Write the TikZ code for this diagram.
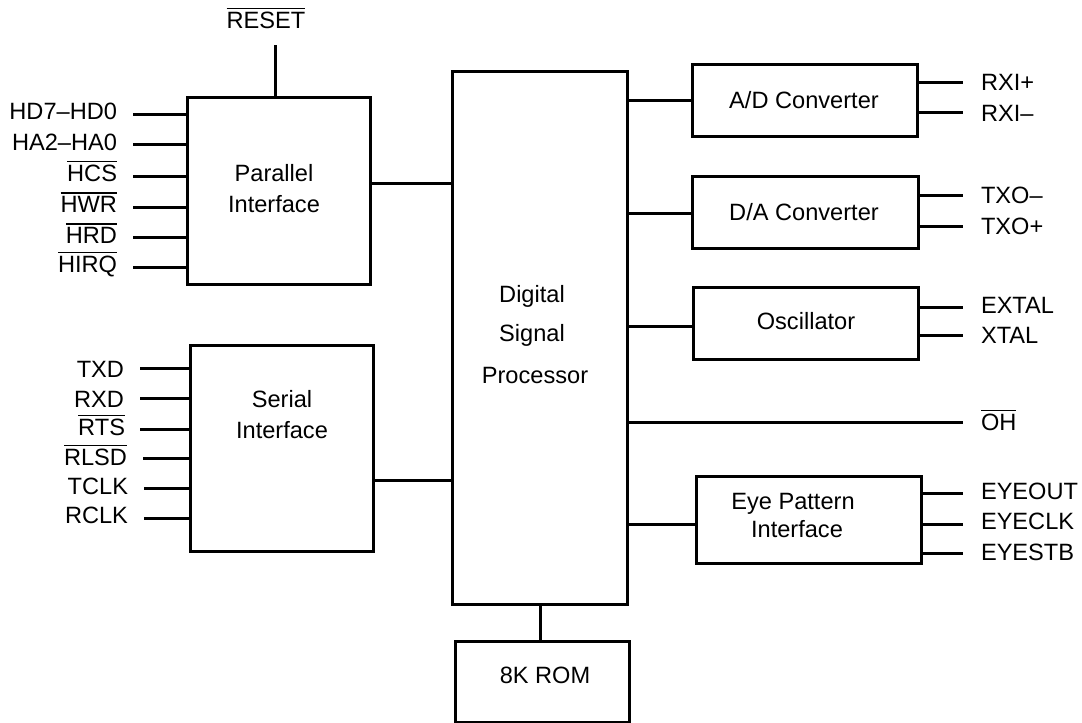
\documentclass[tikz,border=0pt]{standalone}
\usepackage{fontspec}
\setmainfont{Liberation Sans}
\newcommand\barsig[1]{\vbox{\hrule height 1.4pt\kern 2.2pt\hbox{#1}}}
\begin{document}
\begin{tikzpicture}[x=1pt,y=-1pt,
  box/.style={draw, line width=3pt, inner sep=0pt, outer sep=0pt},
  wire/.style={line width=3pt},
  txt/.style={font=\fontsize{23.6}{28}\selectfont, inner sep=0pt, outer sep=0pt}]
\useasboundingbox (0,0) rectangle (1082,723);

% blocks
\node[box, minimum width=183pt, minimum height=187pt] (par) at (278.5,190.5) {};
\node[box, minimum width=183pt, minimum height=206pt] (ser) at (281.5,448) {};
\node[box, minimum width=175pt, minimum height=533pt] (dsp) at (539.5,337.5) {};
\node[box, minimum width=225pt, minimum height=72pt] (ad) at (804.5,100) {};
\node[box, minimum width=226pt, minimum height=72pt] (da) at (805,212) {};
\node[box, minimum width=225pt, minimum height=72pt] (osc) at (805.5,323) {};
\node[box, minimum width=225pt, minimum height=87pt] (eye) at (808.5,519.5) {};
\node[box, minimum width=174pt, minimum height=81pt] (rom) at (542,681.5) {};

% block texts
\node[txt, anchor=base] (partxt1) at (274,181) {Parallel};
\node[txt, anchor=base] (partxt2) at (274,212) {Interface};
\node[txt, anchor=base] (sertxt1) at (282,407) {Serial};
\node[txt, anchor=base] (sertxt2) at (282,438) {Interface};
\node[txt, anchor=base] (dsptxt1) at (532,302) {Digital};
\node[txt, anchor=base] (dsptxt2) at (532,341) {Signal};
\node[txt, anchor=base] (dsptxt3) at (535,383) {Processor};
\node[txt, anchor=base] (adtxt) at (804,108) {A/D Converter};
\node[txt, anchor=base] (datxt) at (804,220) {D/A Converter};
\node[txt, anchor=base] (osctxt) at (806,329) {Oscillator};
\node[txt, anchor=base] (eyetxt1) at (793,509) {Eye Pattern};
\node[txt, anchor=base] (eyetxt2) at (797,537) {Interface};
\node[txt, anchor=base] (romtxt) at (545,683) {8K ROM};

% reset
\coordinate (resetend) at (275,45);
\draw[wire] (resetend |- par.north) -- (resetend);
\node[txt, anchor=base] (resetlbl) at (266,28) {\barsig{RESET}};

% parallel inputs
\foreach \y/\b/\t [count=\i] in {114/119/HD7–HD0, 144/150/HA2–HA0, 176/181/\barsig{HCS}, 207/212/\barsig{HWR}, 237/243/\barsig{HRD}, 267/272/\barsig{HIRQ}} {
  \coordinate (pin\i) at (133,\y);
  \draw[wire] (pin\i) -- (pin\i -| par.west);
  \node[txt, anchor=base east] (plbl\i) at (117,\b) {\t};
}

% serial inputs
\foreach \y/\b/\xs/\xl/\t [count=\i] in {368/377/140/124/TXD, 398/407/140/124/RXD, 429/435/140/125/\barsig{RTS}, 458/465/143/127/\barsig{RLSD}, 488/494/144/128/TCLK, 518/523/144/128/RCLK} {
  \coordinate (sin\i) at (\xs,\y);
  \draw[wire] (sin\i) -- (sin\i -| ser.west);
  \node[txt, anchor=base east] (slbl\i) at (\xl,\b) {\t};
}

% links to DSP
\draw[wire] ([yshift=7.5pt]par.east) -- ([yshift=7.5pt]par.east -| dsp.west);
\draw[wire] ([yshift=-32pt]ser.east) -- ([yshift=-32pt]ser.east -| dsp.west);
\draw[wire] (ad.west -| dsp.east) -- (ad.west);
\draw[wire] ([yshift=-1pt]da.west -| dsp.east) -- ([yshift=-1pt]da.west);
\draw[wire] ([yshift=-3pt]osc.west -| dsp.east) -- ([yshift=-3pt]osc.west);
\draw[wire] ([yshift=-4.5pt]eye.west -| dsp.east) -- ([yshift=-4.5pt]eye.west);
\draw[wire] ([xshift=-2pt]rom.north) -- ([xshift=-2pt]rom.north |- dsp.south);

% OH
\coordinate (ohend) at (963,422);
\draw[wire] (ohend -| dsp.east) -- (ohend);
\node[txt, anchor=base west] (ohlbl) at (981,430) {\barsig{OH}};

% outputs
\foreach \bx/\y/\b/\t [count=\i] in {ad/82/90/RXI+, ad/112/121/RXI–, da/195/203/TXO–, da/226/234/TXO+, osc/307/313/EXTAL, osc/335/343/XTAL, eye/493/499/EYEOUT, eye/524/529/EYECLK, eye/553/560/EYESTB} {
  \coordinate (out\i) at (963,\y);
  \draw[wire] (out\i -| \bx.east) -- (out\i);
  \node[txt, anchor=base west] (olbl\i) at (981,\b) {\t};
}
\end{tikzpicture}
\end{document}
